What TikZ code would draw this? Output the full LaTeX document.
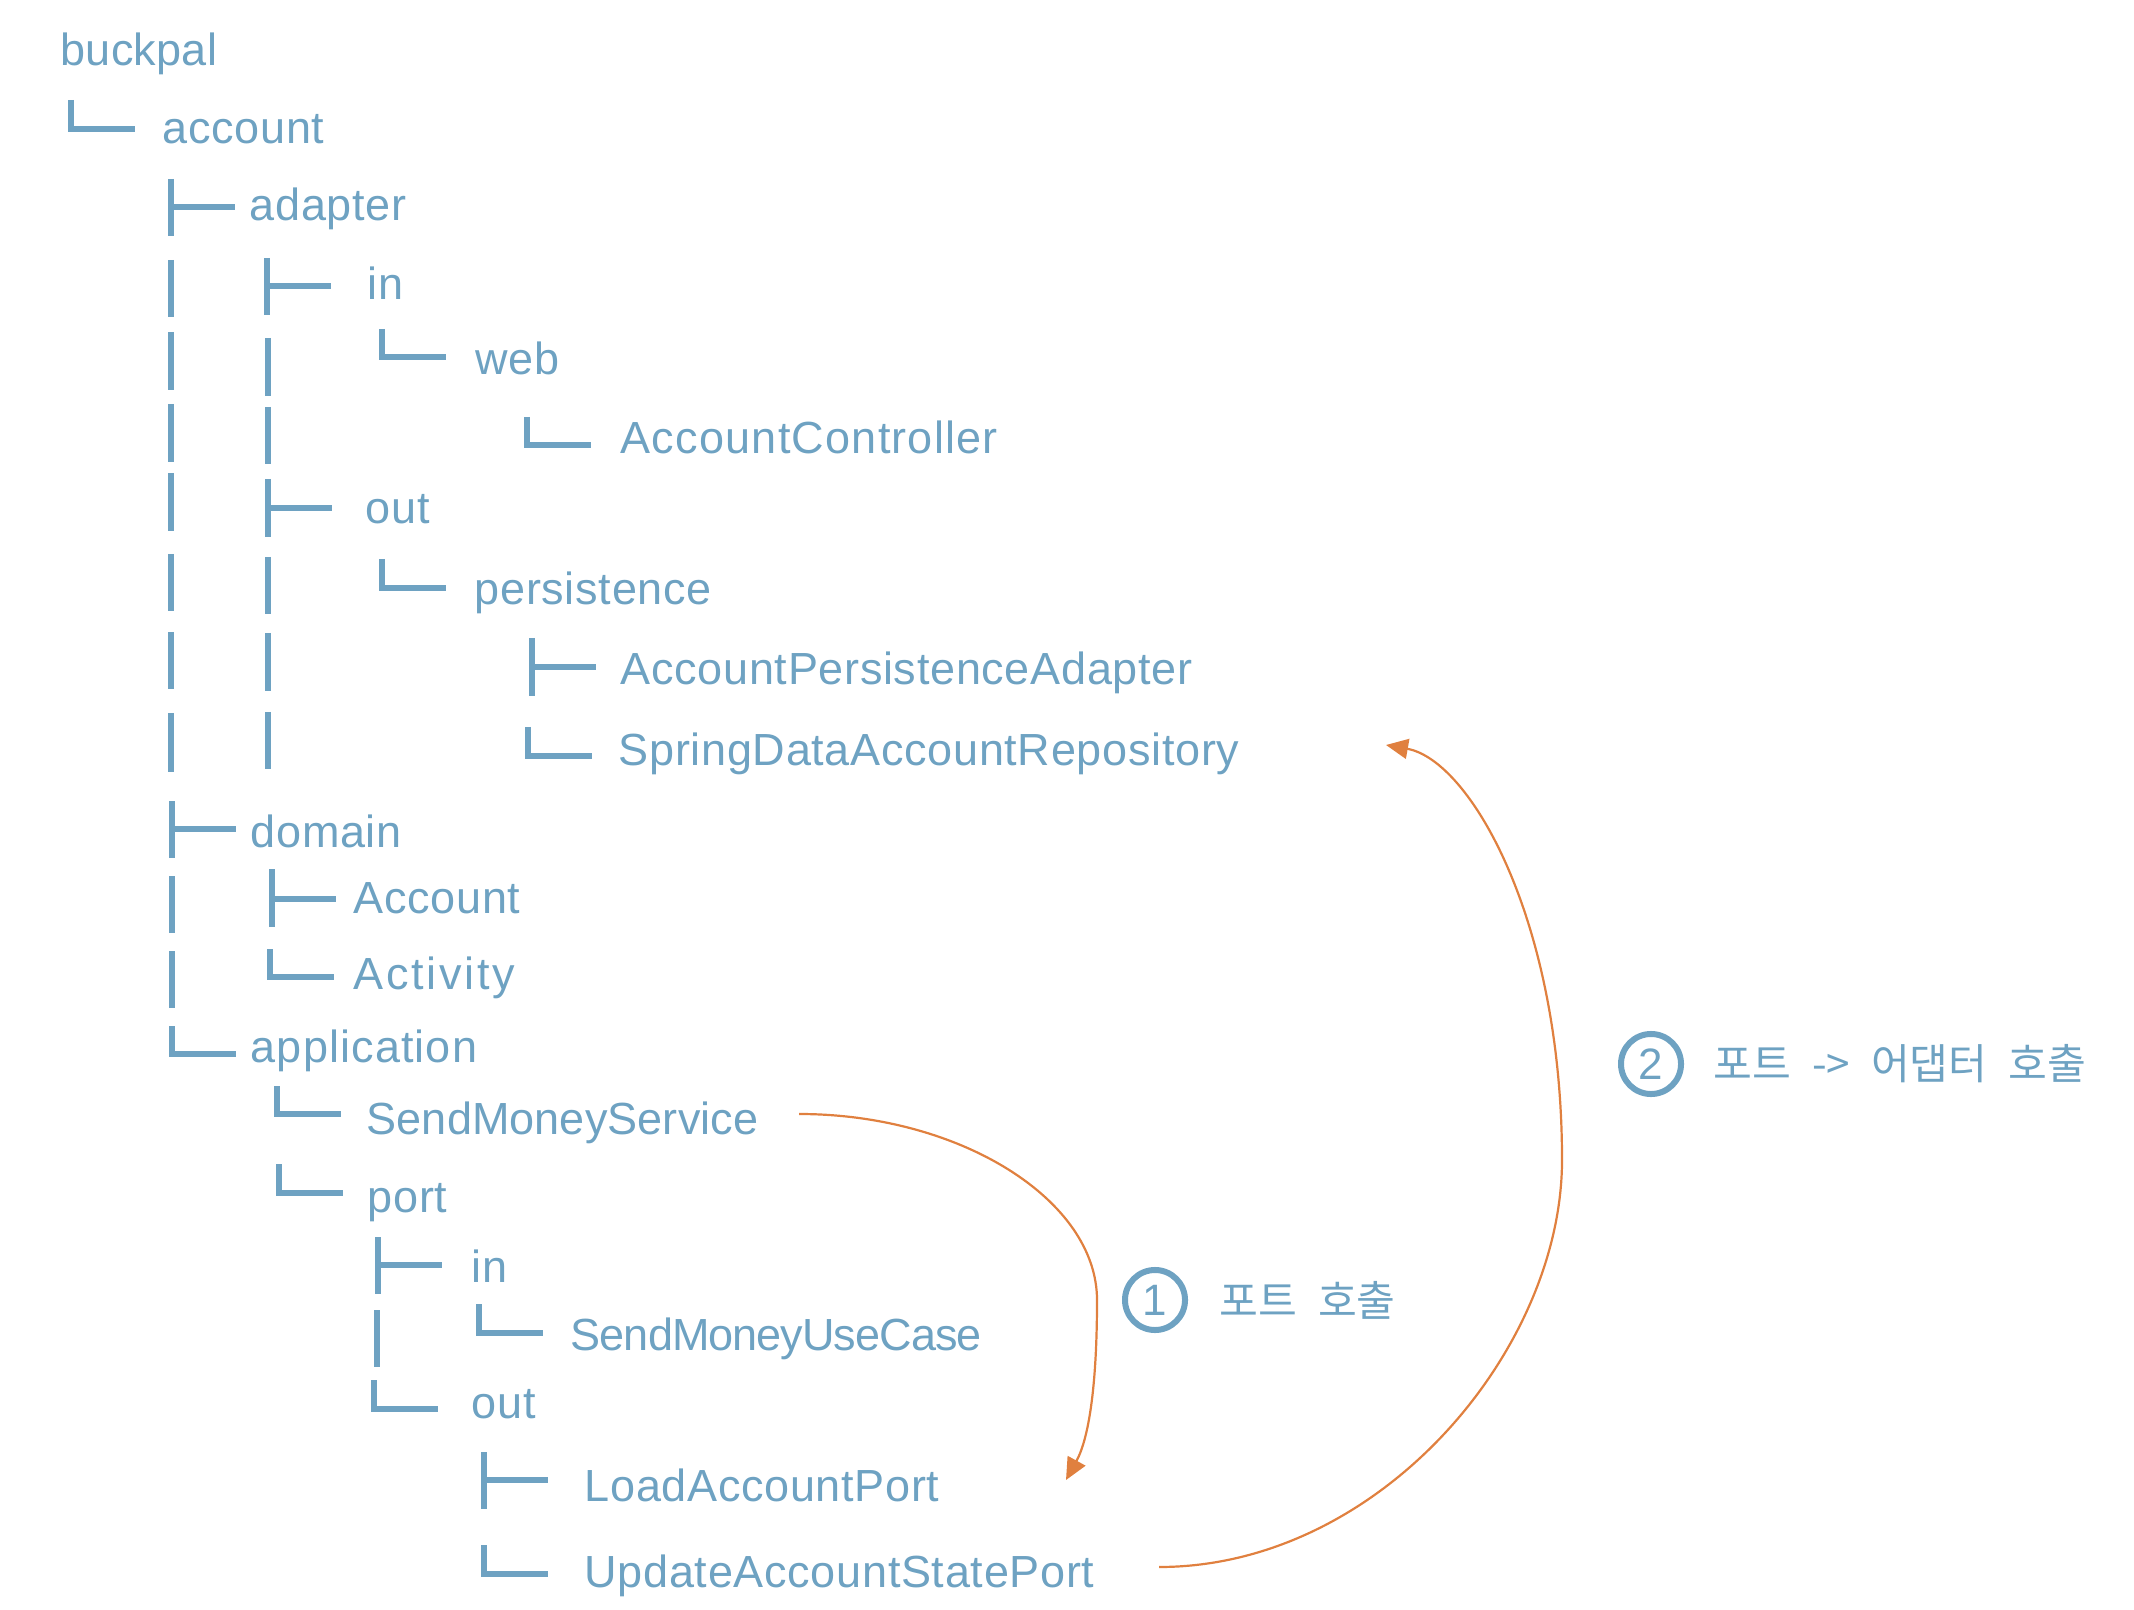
\documentclass[tikz,border=0pt]{standalone}
\usepackage{fontspec}
\setmainfont[LetterSpace=1.5]{Liberation Sans}
\newfontfamily\krfont[WordSpace=2.2]{Noto Sans CJK KR}
\usetikzlibrary{arrows.meta}
\definecolor{tb}{HTML}{6EA2C2}
\definecolor{orng}{HTML}{E0803F}
\tikzset{
  bar/.style={draw=tb, line width=0.06cm},
  lbl/.style={text=tb, inner sep=0, anchor=base west, font=\fontsize{12.8pt}{15pt}\selectfont},
  krl/.style={text=tb, inner sep=0, anchor=west, font=\krfont\fontsize{12pt}{14pt}\selectfont},
  numc/.style={circle, draw=tb, line width=0.06cm, minimum size=0.6cm, inner sep=0, text=tb, font=\fontsize{12.5pt}{14pt}\selectfont},
  arr/.style={draw=orng, line width=0.022cm, -{Triangle[length=0.22cm,width=0.2cm]}},
}
\newcommand\mytee[4]{\draw[bar] (#1,#2) -- (#1,#4); \draw[bar] (#1,#3) -- ({#1+64},#3);}
\newcommand\myell[3]{\draw[bar] (#1,#2) -- (#1,#3) -- ({#1+64},#3);}
\newcommand\myvs[3]{\draw[bar] (#1,#2) -- (#1,#3);}
\newcommand\ls[2]{{\addfontfeature{LetterSpace=#1}#2}}
\begin{document}
\begin{tikzpicture}[x=0.01cm, y=-0.01cm]
\useasboundingbox (0,0) rectangle (2134,1610);
% labels
\node[lbl] (buckpal) at (60,66) {\ls{0.5}{buckpal}};
\node[lbl] (account) at (162,144) {account};
\node[lbl] (adapter) at (249,221) {adapter};
\node[lbl] (adin) at (367,300) {in};
\node[lbl] (web) at (475,375) {web};
\node[lbl] (ctrl) at (620,454) {\ls{2.7}{AccountController}};
\node[lbl] (adout) at (365,524) {out};
\node[lbl] (pers) at (474,605) {persistence};
\node[lbl] (apa) at (620,685) {AccountPersistenceAdapter};
\node[lbl] (sdar) at (618,765) {SpringDataAccountRepository};
\node[lbl] (domain) at (250,847) {domain};
\node[lbl] (acc) at (353,913) {Account};
\node[lbl] (act) at (353,989) {\ls{6}{Activity}};
\node[lbl] (appl) at (250,1062) {\ls{2.5}{application}};
\node[lbl] (sms) at (366,1134) {\ls{0.2}{SendMoneyService}};
\node[lbl] (port) at (367,1212) {port};
\node[lbl] (pin) at (471,1282) {in};
\node[lbl] (smuc) at (570,1350) {\ls{-2.1}{SendMoneyUseCase}};
\node[lbl] (pout) at (471,1418) {out};
\node[lbl] (lap) at (584,1501) {LoadAccountPort};
\node[lbl] (uasp) at (584,1587) {UpdateAccountStatePort};
% tree glyphs
\myell{71}{100}{129}
\mytee{171}{179}{207}{236}
\myvs{171}{260}{317} \mytee{267}{258}{286}{315}
\myvs{171}{332}{390} \myvs{268}{338}{396} \myell{382}{329}{357}
\myvs{171}{404}{462} \myvs{268}{407}{464} \myell{527}{417}{445}
\myvs{171}{473}{531} \mytee{268}{479}{508}{537}
\myvs{171}{554}{611} \myvs{268}{557}{614} \myell{382}{559}{588}
\myvs{171}{632}{689} \myvs{268}{633}{691} \mytee{532}{638}{667}{696}
\myvs{171}{713}{772} \myvs{268}{712}{769} \myell{528}{727}{756}
\mytee{172}{801}{829}{858}
\myvs{172}{876}{933} \mytee{272}{869}{899}{927}
\myvs{172}{951}{1008} \myell{270}{949}{977}
\myell{172}{1026}{1054}
\myell{277}{1086}{1114}
\myell{279}{1164}{1193}
\mytee{378}{1237}{1265}{1294}
\myvs{377}{1310}{1367} \myell{479}{1304}{1333}
\myell{374}{1380}{1409}
\mytee{484}{1452}{1480}{1509}
\myell{484}{1545}{1574}
% annotations
\node[numc] (c1) at (1155,1300) {1};
\node[krl] (t1) at (1219,1300) {포트 호출};
\node[numc] (c2) at (1651,1064) {2};
\node[krl] (t2) at (1713,1064) {포트 -> 어댑터 호출};
% arrows
\coordinate (a1s) at (799,1114);
\coordinate (a1m) at (1097,1300);
\coordinate (a1e) at (1066,1480);
\coordinate (a2s) at (1159,1567);
\coordinate (a2m) at (1562,1160);
\coordinate (a2e) at (1386,745);
\draw[arr] (a1s) .. controls (960,1114) and (1097,1200) .. (a1m)
  .. controls (1097,1390) and (1088,1440) .. (a1e);
\draw[arr] (a2s) .. controls (1380,1567) and (1562,1350) .. (a2m)
  .. controls (1562,920) and (1470,760) .. (a2e);
\end{tikzpicture}
\end{document}
